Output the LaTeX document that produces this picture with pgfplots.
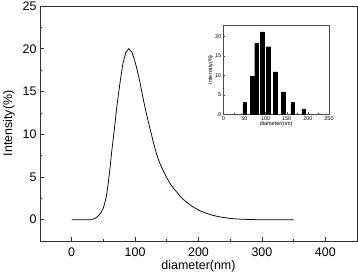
\documentclass[border=0pt]{standalone}
\usepackage{pgfplots}
\pgfplotsset{compat=1.18}
\usepackage{fontspec}
\setmainfont{Liberation Sans}
\begin{document}
\begin{tikzpicture}[x=1bp,y=1bp]
\useasboundingbox (0,0) rectangle (358,277);
\begin{axis}[
  at={(40bp,36bp)}, anchor=south west,
  scale only axis, width=317bp, height=235bp,
  xmin=-50, xmax=450, ymin=-2.5, ymax=25,
  xtick={0,100,200,300,400}, minor xtick={50,150,250,350},
  ytick={0,5,10,15,20,25}, minor ytick={2.5,7.5,12.5,17.5,22.5},
  tick pos=left, tick align=inside,
  major tick length=4bp, minor tick length=2.5bp,
  axis line style={line width=0.9pt, black!80},
  tick style={black!80, line width=0.6pt},
  /pgf/number format/assume math mode=true,
  ticklabel style={font=\fontsize{12.5}{14}\selectfont},
  xticklabel style={yshift=-3bp},
  xlabel={diameter(nm)}, ylabel={Intensity(\%)},
  label style={font=\fontsize{12.5}{14}\selectfont},
  xlabel style={yshift=3bp},
  ylabel style={yshift=1bp},
]
\addplot[black, line width=0.75pt] coordinates {
(0,0)(10,0)(20,0)(31,0)(37,0.15)(42,0.45)(46.5,0.85)(50,1.4)(52,1.9)(54.4,2.6)(57,3.9)(59.6,5.46)(63,7.9)(67.5,10.7)(71,13.1)(75.4,15.6)(80.6,18.2)(85,19.5)(90,20)(95,19.6)(99,18.7)(103,17.6)(107,16.3)(112,14.4)(117.5,12.5)(123,10.8)(128,9.3)(133,7.9)(137.4,6.9)(143.8,5.8)(150,4.9)(157,4.0)(164.8,3.3)(172,2.65)(180,2.1)(190,1.55)(201.6,1.05)(212,0.75)(222.7,0.5)(235,0.3)(249,0.15)(262,0.07)(275,0.03)(290,0)(320,0)(350,0)
};
\end{axis}
\begin{axis}[
  at={(223.3bp,162.7bp)}, anchor=south west,
  scale only axis, width=105.7bp, height=89.3bp,
  xmin=0, xmax=250, ymin=0, ymax=23,
  xtick={0,50,100,150,200,250}, ytick={0,5,10,15,20},
  minor xtick={25,75,125,175,225}, minor ytick={2.5,7.5,12.5,17.5},
  tick pos=left, tick align=inside,
  major tick length=1.8bp, minor tick length=1bp,
  axis line style={line width=0.5pt, black!70},
  tick style={black!70, line width=0.4pt},
  /pgf/number format/assume math mode=true,
  ticklabel style={font=\fontsize{5.5}{6.5}\selectfont},
  xticklabel style={yshift=1.5bp},
  yticklabel style={xshift=1.5bp},
  xlabel={diameter(nm)}, ylabel={Intensity(\%)},
  label style={font=\fontsize{5.5}{6.5}\selectfont},
  xlabel style={yshift=6bp},
  ylabel style={yshift=-5bp},
]
\addplot[ybar, bar width=9, fill=black, draw=black] coordinates {
(50.7,3.0)(68.1,9.8)(78.8,18.2)(91.3,21.2)(105.7,17.4)(122.4,10.9)(141.8,5.8)(164.2,3.0)(190.1,1.4)
};
\end{axis}
\end{tikzpicture}
\end{document}
